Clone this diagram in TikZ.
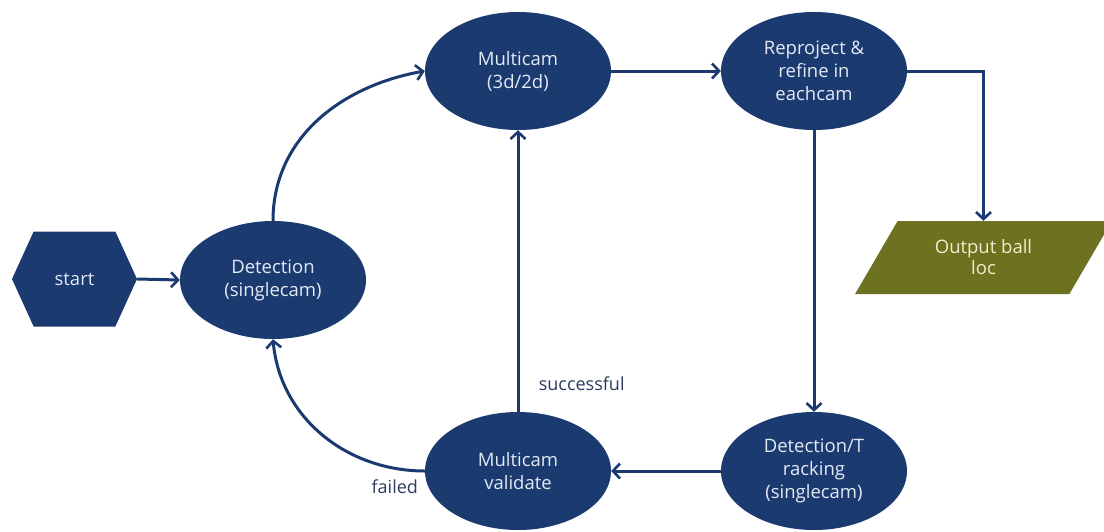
\documentclass[tikz,border=0pt]{standalone}
\usepackage{fontspec}
\setmainfont{Open Sans}
\usetikzlibrary{shapes.geometric,shapes.symbols,arrows.meta}
\definecolor{navy}{RGB}{26,58,112}
\definecolor{olivebox}{RGB}{108,114,32}
\definecolor{ltxt}{RGB}{228,234,244}
\definecolor{otxt}{RGB}{242,238,204}
\definecolor{lbl}{RGB}{45,60,92}
\begin{document}
\begin{tikzpicture}[x=1pt,y=-1pt,
  proc/.style={ellipse, fill=navy, text=ltxt, minimum width=186pt, minimum height=118pt,
    inner sep=0pt, align=center, font=\fontsize{18.5}{23}\selectfont},
  startbox/.style={signal, signal to=west and east, signal pointer angle=131, fill=navy,
    text=ltxt, minimum width=125pt, minimum height=95pt, inner sep=0pt,
    font=\fontsize{18.5}{23}\selectfont},
  para/.style={trapezium, trapezium left angle=55.6, trapezium right angle=124.4,
    trapezium stretches=true, fill=olivebox, text=otxt, minimum width=257pt,
    minimum height=73pt, inner sep=0pt, align=center, font=\fontsize{18.5}{21}\selectfont},
  conn/.style={draw=navy, line width=3pt,
    -{Straight Barb[length=7pt,width=15pt,line width=2.6pt]}},
  lab/.style={text=lbl, font=\fontsize{18}{20}\selectfont}]
\useasboundingbox[fill=white] (0,0) rectangle (1104,531);

\node[startbox] (start) at (74.5,279) {start};
\node[proc] (det) at (273,280) {Detection\\(singlecam)};
\node[proc] (mc) at (518,71) {Multicam\\(3d/2d)};
\node[proc] (rep) at (814,71) {Reproject \&\\refine in\\eachcam};
\node[proc] (trk) at (814,471) {Detection/T\\racking\\(singlecam)};
\node[proc] (val) at (518,471) {Multicam\\validate};
\node[para] (out) at (983.5,257.5) {Output ball\\loc};

\draw[conn] (start.east) -- (det.west);
\draw[conn] (det.north) to[out=90,in=190] (mc.west);
\draw[conn] (mc.east) -- (rep.west);
\draw[conn] (rep.east) -| (out.north);
\draw[conn] (rep.south) -- (trk.north);
\draw[conn] (trk.west) -- (val.east);
\draw[conn] (val.north) -- node[lab, pos=0.1, anchor=west, xshift=16pt] {successful} (mc.south);
\draw[conn] (val.west) to[out=180,in=275] node[lab, pos=0, anchor=north east, xshift=-2pt, yshift=-4pt] {failed} (det.south);
\end{tikzpicture}
\end{document}
